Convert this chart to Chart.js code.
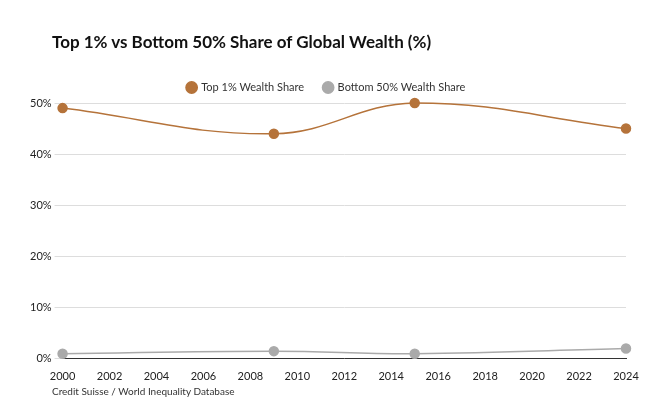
<!DOCTYPE html>
<html>
<head>
<meta charset="utf-8">
<script src="https://cdn.jsdelivr.net/npm/chart.js@4"></script>
<style>
  body { margin: 0; background: #fff; font-family: Lato, sans-serif; }
  #wrap { position: relative; width: 670px; height: 420px; }
  #title { position: absolute; left: 52px; top: 31px; font-size: 17px; font-weight: bold; color: #111; }
  #source { position: absolute; left: 52px; top: 385px; font-size: 10px; color: #333; }
  canvas { position: absolute; left: 0; top: 0; }
</style>
</head>
<body>
<div id="wrap">
  <canvas id="chart" width="670" height="420"></canvas>
  <div id="title">Top 1% vs Bottom 50% Share of Global Wealth (%)</div>
  <div id="source">Credit Suisse / World Inequality Database</div>
</div>
<script>
// Données
const years = [2000, 2009, 2015, 2024];
const top1Share = [49, 44, 50, 45];
const bottom50Share = [1, 1.5, 1, 2];
const yTicks = [0, 10, 20, 30, 40, 50];

const toPoints = vals => vals.map((v, i) => ({ x: years[i], y: v }));

new Chart(document.getElementById('chart'), {
    type: 'line',
    data: {
        datasets: [
            { label: 'Top 1% Wealth Share', data: toPoints(top1Share), borderColor: '#b5733a', backgroundColor: '#b5733a', borderWidth: 1.5, pointRadius: 4.5, tension: 0.4, clip: false },
            { label: 'Bottom 50% Wealth Share', data: toPoints(bottom50Share), borderColor: '#aaaaaa', backgroundColor: '#aaaaaa', borderWidth: 1.5, pointRadius: 4.5, tension: 0.4, clip: false }
        ]
    },
    options: {
        responsive: false,
        animation: false,
        layout: { padding: { left: 27, right: 44, top: 62, bottom: 34 } },
        scales: {
            x: {
                type: 'linear', min: 2000, max: 2024,
                ticks: { stepSize: 2, color: '#222', font: { family: 'Lato', size: 11 }, callback: v => String(v) },
                grid: { display: false },
                border: { color: '#333' }
            },
            y: {
                min: 0, max: 50,
                afterBuildTicks: axis => { axis.ticks = yTicks.map(v => ({ value: v })); },
                ticks: { color: '#222', font: { family: 'Lato', size: 11 }, callback: v => v + '%' },
                grid: { color: '#dddddd' },
                border: { display: false }
            }
        },
        plugins: {
            legend: {
                position: 'top',
                labels: { usePointStyle: true, pointStyle: 'circle', boxWidth: 8, boxHeight: 8, padding: 20, color: '#333', font: { family: 'Lato', size: 11 } }
            },
            tooltip: { enabled: false }
        }
    },
    plugins: [{
        id: 'legendShift',
        afterFit: undefined,
        beforeInit(chart) {
            const orig = chart.legend;
        }
    }]
});
</script>
</body>
</html>
